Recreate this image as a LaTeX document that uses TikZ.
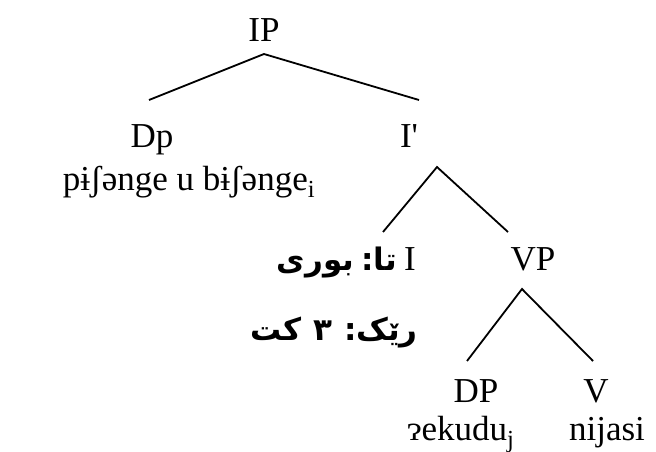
\documentclass[tikz,border=0pt]{standalone}
\usepackage{fontspec}
\setmainfont{Liberation Serif}
\newfontfamily\arabicfont[Script=Arabic]{DejaVu Sans}
\TeXXeTstate=1
\begin{document}
\begin{tikzpicture}[x=1pt,y=-1pt,
  lab/.style={anchor=base,inner sep=0pt,font=\fontsize{35}{40}\selectfont},
  ar/.style={anchor=base east,inner sep=0pt,font=\arabicfont\bfseries\fontsize{31}{36}\selectfont},
  branch/.style={line width=1.8pt}]
\useasboundingbox (0,0) rectangle (656,452);
% nodes
\node[lab] (IP) at (264,42) {IP};
\node[lab] (Dp) at (152,147) {Dp};
\node[lab] (Ibar) at (409,147) {I\textquotesingle};
\node[lab] (DpText) at (189,190) {pɨʃənge u bɨʃənge\textsubscript{i}};
\node[lab] (I) at (410,270) {I};
\node[ar] (ArA) at (397,270) {\beginR تا:\hspace{7pt}بوری\endR};
\node[lab] (VP) at (533,270) {VP};
\node[ar] (ArB) at (418,340) {\beginR رێک:\hspace{12pt}٣\hspace{12pt}کت\endR};
\node[lab] (DP) at (476,402) {DP};
\node[lab] (V) at (596,402) {V};
\node[lab] (DPText) at (461,440) {ɂekudu\textsubscript{j}};
\node[lab] (VText) at (607,440) {nijasi};
% branch points
\coordinate (IPb) at (264,54);
\coordinate (Dpt) at (149,100);
\coordinate (Ibart) at (419,100);
\coordinate (Ibarb) at (437,167);
\coordinate (It) at (383,232);
\coordinate (VPt) at (508,232);
\coordinate (VPb) at (522,289);
\coordinate (DPt) at (467,361);
\coordinate (Vt) at (593,361);
\draw[branch] (Dpt) -- (IPb) -- (Ibart);
\draw[branch] (It) -- (Ibarb) -- (VPt);
\draw[branch] (DPt) -- (VPb) -- (Vt);
\end{tikzpicture}
\end{document}
